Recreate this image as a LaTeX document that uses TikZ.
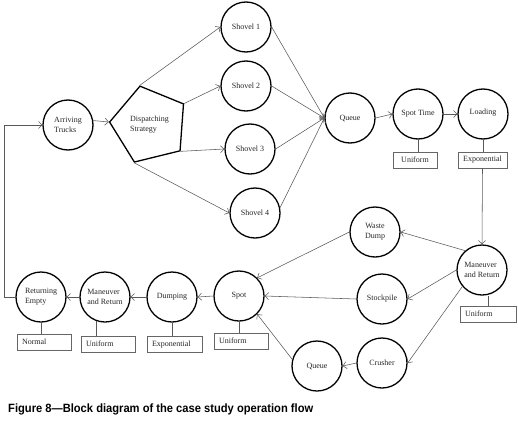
\documentclass[tikz,border=0pt]{standalone}
\usepackage{fontspec}
\setmainfont{Liberation Serif}
\newfontfamily\capfont{Liberation Sans}
\usetikzlibrary{arrows.meta,shapes.geometric}
\begin{document}
\begin{tikzpicture}[x=1pt,y=-1pt,
  stn/.style={circle, draw=black, line width=1.3pt, minimum size=50pt, inner sep=0pt,
    font=\fontsize{8}{10}\selectfont, text=black!85, align=center},
  lbox/.style={draw=black!60, line width=0.5pt, minimum height=16pt, inner ysep=0pt,
    inner xsep=5pt, font=\fontsize{8}{10}\selectfont, text=black!85, align=left},
  conn/.style={draw=black!65, line width=0.55pt},
  arr/.style={conn, -{Straight Barb[length=3.5pt,width=7pt]}}]
\useasboundingbox (0,0) rectangle (518,420);

% stations
\node[stn, align=left] (AT) at (68,125) {Arriving\\Trucks};
\node[regular polygon, regular polygon sides=5, shape border rotate=13.8, draw=black,
  line width=1.3pt, minimum size=80pt, inner sep=0pt, align=left,
  font=\fontsize{8}{10}\selectfont, text=black!85] (DS) at (149.5,125) {Dispatching\\Strategy};
\node[stn] (S1) at (246,27) {Shovel 1};
\node[stn] (S2) at (246,86) {Shovel 2};
\node[stn] (S3) at (250,149) {Shovel 3};
\node[stn] (S4) at (255,213) {Shovel 4};
\node[stn] (Q1) at (350,118) {Queue};
\node[stn] (ST) at (418,114) {Spot Time};
\node[stn] (LD) at (483,114) {\raisebox{4pt}{Loading}};
\node[lbox, text width=34pt, align=center] (U1) at (415,160) {Uniform};
\node[lbox, text width=39pt, align=center] (E1) at (482.5,160) {Exponential};
\node[stn] (WD) at (375,232) {Waste\\Dump};
\node[stn, align=left] (MR) at (482,270) {Maneuver\\and Return};
\node[lbox, text width=46pt] (U3) at (488,314) {Uniform};
\node[stn] (SP) at (382,299) {Stockpile};
\node[stn] (CR) at (382,363) {Crusher};
\node[stn] (Q2) at (317,366) {Queue};
\node[stn] (SPOT) at (239,296) {Spot};
\node[lbox, text width=44pt] (U4) at (241,341) {Uniform};
\node[stn] (DU) at (172,297) {\raisebox{3pt}{Dumping}};
\node[lbox, text width=45pt] (E2) at (174.5,344.5) {Exponential};
\node[stn, align=left] (MRL) at (105,297) {Maneuver\\and Return};
\node[lbox, text width=44pt] (U2) at (108,344) {Uniform};
\node[stn, align=left] (RE) at (41,297) {Returning\\Empty};
\node[lbox, text width=44pt] (NR) at (44,342) {Normal};
\coordinate (RET) at (4,297);

% connectors
\draw[arr] (AT.10) -- (DS.corner 2);
\draw[arr] (DS.corner 1) -- (S1.west);
\draw[arr] (DS.corner 5) -- (S2.west);
\draw[arr] (DS.corner 4) -- (S3.west);
\draw[arr] (DS.corner 3) -- (S4.west);
\draw[arr] (S1.east) -- (Q1.west);
\draw[arr] (S2.east) -- (Q1.west);
\draw[arr] (S3.east) -- (Q1.west);
\draw[arr] (S4.12) -- (Q1.west);
\draw[arr] (Q1.east) -- (ST.west);
\draw[arr] (ST.east) -- (LD.west);
\draw[conn] (ST.south) -- (ST.south |- U1.north);
\draw[conn] (LD.south) -- (LD.south |- E1.north);
\draw[arr] (E1.south) -- (MR.north);
\draw[arr] (MR.131) -- (WD.east);
\draw[arr] (MR.west) -- (SP.east);
\draw[arr] (MR.220) -- (CR.east);
\draw[conn] (U3.north) -- (MR.south -| U3.north);
\draw[arr] (WD.west) -- (SPOT.45);
\draw[arr] (SP.west) -- (SPOT.east);
\draw[arr] (CR.west) -- (Q2.east);
\draw[arr] (Q2.165) -- (SPOT.-45);
\draw[conn] (SPOT.south) -- (SPOT.south |- U4.north);
\draw[arr] (SPOT.west) -- (DU.east);
\draw[conn] (DU.south) -- (DU.south |- E2.north);
\draw[arr] (DU.west) -- (MRL.east);
\draw[conn] (MRL.-109) -- (MRL.-109 |- U2.north);
\draw[arr] (MRL.west) -- (RE.east);
\draw[conn] (RE.south) -- (RE.south |- NR.north);
\draw[arr] (RE.west) -- (RET) |- (AT.west);

% caption
\node[anchor=base west, inner sep=0pt, font=\capfont\bfseries\fontsize{12}{14}\selectfont]
  (CAP) at (8,412) {\scalebox{0.93}[1]{Figure 8—Block diagram of the case study operation flow}};
\end{tikzpicture}
\end{document}
